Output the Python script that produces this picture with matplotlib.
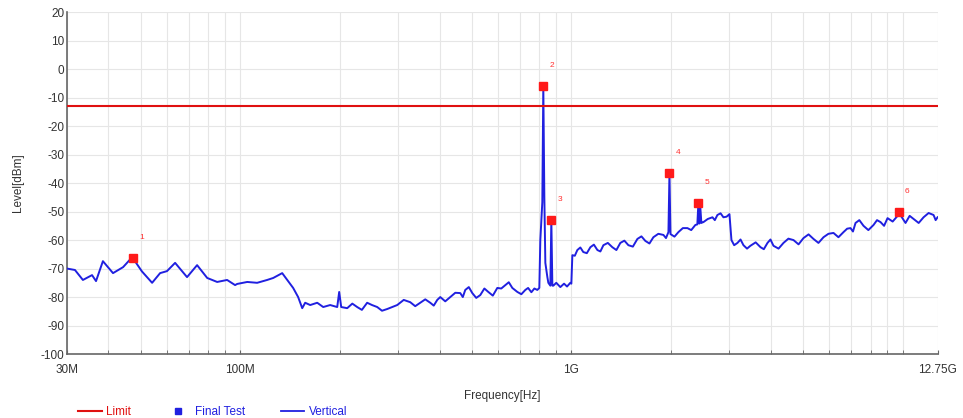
import matplotlib
matplotlib.use("Agg")
import matplotlib.pyplot as plt
from matplotlib.lines import Line2D
from matplotlib.ticker import FixedLocator, NullFormatter

plt.rcParams['font.family'] = ['Liberation Sans', 'DejaVu Sans']
plt.rcParams['axes.unicode_minus'] = False

low_f = [30.0, 31.7, 33.5, 35.7, 36.7, 38.5, 41.3, 44.3, 47.2, 50.5, 54.2, 57.3, 60.1,
         63.6, 69.1, 74.1, 79.5, 85.2, 91.3, 96.5, 97.9, 105, 112.5, 120.6, 125.8, 133.9,
         138.7, 144.5, 149.6, 153.9, 157.1, 162.7, 170.8, 178.1, 186.9, 196.3, 199.0,
         201.8, 210.4, 218, 225.5, 233, 241.7, 250, 259.2, 268, 277.8]
low_l = [-70.0, -70.5, -74.0, -72.3, -74.4, -67.4, -71.6, -69.5, -66.0, -71.0, -75.0,
         -71.6, -70.9, -68.0, -73.0, -68.8, -73.3, -74.7, -74.0, -75.8, -75.4, -74.7,
         -75.0, -74.0, -73.3, -71.6, -74.0, -76.8, -80.0, -83.9, -82.0, -82.8, -82.0,
         -83.5, -82.8, -83.5, -78.2, -83.5, -83.9, -82.3, -83.5, -84.5, -82.0, -82.8,
         -83.5, -84.8, -84.2]

mid_f = [297.9, 311.7, 326.1, 337.6, 349.6, 362, 374.8, 384, 393.5, 401.8, 416, 430.8,
         446, 461.7, 470, 478.1, 490, 502.0, 516, 530.7, 546, 561.1, 579, 597.4, 614,
         631.7, 647, 663.1, 675, 686.6, 706, 725.9, 740, 757, 773, 788.9, 800.0, 805.6,
         816.8, 822.5, 828.4, 834.2, 846.0, 851.8, 863.7, 869.7, 875.9, 882.0, 900,
         925.8, 950, 970, 992.4]
mid_l = [-82.8, -81.0, -81.8, -83.2, -82.0, -80.8, -82.0, -83.0, -81.0, -80.0, -81.5,
         -80.0, -78.5, -78.6, -80.0, -77.5, -76.5, -78.6, -80.3, -79.3, -77.0, -78.2,
         -79.5, -76.8, -77.0, -75.8, -74.8, -76.8, -77.5, -78.2, -79.0, -77.5, -76.8,
         -78.3, -77.0, -77.5, -76.8, -60.0, -46.7, -6.0, -45.0, -68.0, -73.0, -75.0,
         -76.0, -53.0, -76.0, -76.0, -75.0, -76.5, -75.3, -76.3, -75.0]

high_f = [999.5, 1006.5, 1024, 1042, 1064, 1086, 1113, 1141, 1169, 1198, 1223, 1249,
          1288, 1329, 1367, 1405, 1445, 1486, 1533, 1582, 1627, 1672, 1720, 1768, 1830,
          1896, 1930, 1963, 1977, 1991, 2047, 2104, 2170, 2240, 2300, 2367, 2400, 2417,
          2434, 2451, 2468, 2486, 2503, 2580, 2666, 2710, 2759, 2820, 2877, 2940, 3000]
high_l = [-75.3, -65.3, -65.5, -63.5, -62.6, -64.2, -64.6, -62.5, -61.6, -63.5, -64.0,
          -61.8, -61.0, -62.5, -63.5, -61.0, -60.2, -61.8, -62.3, -59.6, -58.7, -60.3,
          -61.2, -59.0, -57.8, -58.2, -59.3, -57.2, -36.5, -57.9, -58.8, -57.2, -55.8,
          -55.8, -56.5, -54.7, -54.5, -47.0, -54.2, -48.8, -54.0, -53.8, -53.7, -52.6,
          -52.0, -53.0, -51.2, -50.6, -52.0, -51.8, -50.9]

top_f = [3042, 3100, 3172, 3240, 3307, 3390, 3471, 3600, 3723, 3810, 3908, 3990, 4074,
         4220, 4368, 4520, 4683, 4850, 5020, 5200, 5381, 5570, 5769, 5970, 6184, 6400,
         6630, 6800, 6961, 7080, 7207, 7400, 7619, 7880, 8168, 8370, 8577, 8790, 9004,
         9330, 9654, 9720, 9950, 10203, 10500, 10790, 11180, 11567, 11980, 12400, 12580,
         12750]
top_l = [-60.0, -61.8, -61.0, -59.8, -61.8, -63.0, -62.0, -60.8, -62.5, -63.2, -61.0,
         -59.8, -62.0, -63.0, -61.0, -59.5, -60.0, -61.5, -59.3, -58.0, -59.6, -61.0,
         -59.0, -57.8, -57.5, -59.0, -57.2, -56.0, -55.8, -57.0, -54.0, -53.0, -55.0,
         -56.5, -54.7, -53.0, -53.7, -55.0, -52.3, -53.5, -51.5, -50.2, -52.0, -54.0,
         -51.5, -52.6, -54.0, -52.0, -50.5, -51.2, -53.0, -52.0]

# final test points
peak_mhz = [47.5, 822.5, 869.7, 1977, 2417, 9720]
peak_dbm = [-66.3, -6.0, -53.0, -36.5, -47.0, -50.2]
peak_labels = ['1', '2', '3', '4', '5', '6']

limit_dbm = -13

freq_mhz = low_f + mid_f + high_f + top_f
level_dbm = low_l + mid_l + high_l + top_l

fig = plt.figure(figsize=(9.63, 4.18), dpi=100)
ax = fig.add_axes([0.0696, 0.153, 0.904, 0.818])

ax.plot(freq_mhz, level_dbm, color='#2020e0', lw=1.4, zorder=3)
ax.axhline(limit_dbm, color='#e01010', lw=1.5, zorder=4)
ax.plot(peak_mhz, peak_dbm, 's', color='#ff1a1a', ms=5.5, zorder=5)
for f, l, t in zip(peak_mhz, peak_dbm, peak_labels):
    ax.annotate(t, (f, l), xytext=(6, 15), textcoords='offset points',
                color='#ff3030', fontsize=6, ha='center', va='center')

ax.set_xscale('log')
ax.set_xlim(30, 12750)
ax.set_ylim(-100, 20)
ax.set_yticks(range(-100, 21, 10))
ax.set_xticks([30, 100, 1000, 12750])
ax.set_xticklabels(['30M', '100M', '1G', '12.75G'])
minors = [40, 50, 60, 70, 80, 90, 200, 300, 400, 500, 600, 700, 800, 900,
          2000, 3000, 4000, 5000, 6000, 7000, 8000, 9000, 10000]
ax.xaxis.set_minor_locator(FixedLocator(minors))
ax.xaxis.set_minor_formatter(NullFormatter())

ax.grid(True, which='both', color='#e6e6e6', lw=0.8)
ax.set_axisbelow(True)
for s in ['top', 'right']:
    ax.spines[s].set_visible(False)
for s in ['left', 'bottom']:
    ax.spines[s].set_color('#666666')
    ax.spines[s].set_linewidth(1.2)
ax.tick_params(axis='x', which='both', direction='in', length=3, color='#666666',
               labelsize=8.5, labelcolor='#333333', pad=7)
ax.tick_params(axis='y', length=0, labelsize=8.5, labelcolor='#333333', pad=2)

ax.set_xlabel('Frequency[Hz]', fontsize=8.5, color='#333333', labelpad=10)
ax.set_ylabel('Level[dBm]', fontsize=8.5, color='#333333', labelpad=12)

handles = [Line2D([], [], color='#e01010', lw=1.5),
           Line2D([], [], color='#2020e0', marker='s', ms=4, ls='none'),
           Line2D([], [], color='#2020e0', lw=1.3)]
leg = fig.legend(handles, ['Limit', 'Final Test', 'Vertical'], loc='lower left',
                 bbox_to_anchor=(0.07, -0.025), ncol=3, frameon=False, fontsize=8.5,
                 handlelength=2.0, handletextpad=0.4, columnspacing=3.0)
for txt, c in zip(leg.get_texts(), ['#e01010', '#2020e0', '#2020e0']):
    txt.set_color(c)

fig.savefig('out.png', dpi=100)
